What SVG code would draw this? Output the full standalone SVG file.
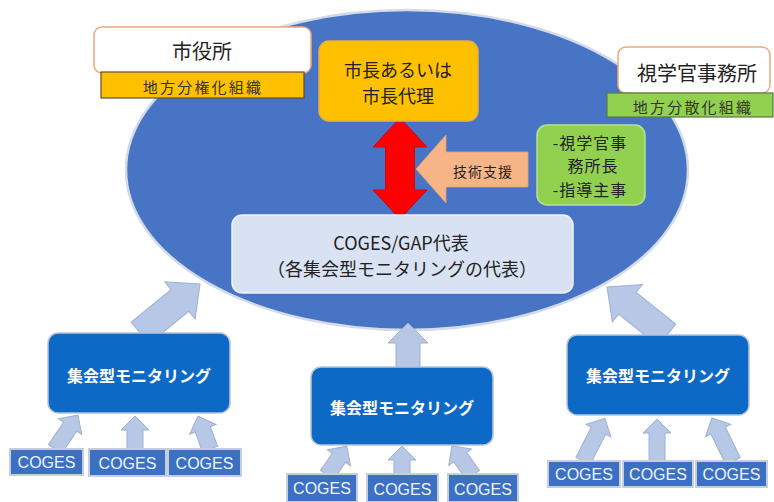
<svg xmlns="http://www.w3.org/2000/svg" width="774" height="502" viewBox="0 0 774 502">
<defs>
<style>
.jp{font-family:"Noto Sans CJK JP","Liberation Sans",sans-serif;text-anchor:middle;dominant-baseline:central}
.lt{font-family:"Liberation Sans","Noto Sans CJK JP",sans-serif;text-anchor:middle;dominant-baseline:central}
.conn{fill:#b7c7e6;stroke:#9fb0d0;stroke-width:1}
.mon{fill:#0d69c6;stroke:#b8c4d8;stroke-width:1.5}
.cg{fill:#3c70c2;stroke:#c6cedc;stroke-width:2}
.cgt{fill:#eef4ff;font-size:16px}
.mt{fill:#ffffff;font-size:16px;font-weight:bold}
</style>
</defs>
<rect width="774" height="502" fill="#ffffff"/>
<g id="circle">
<ellipse cx="407" cy="170" rx="281" ry="160" fill="#4774c4" stroke="#d4dbe8" stroke-width="2.5"/>
</g>
<g id="connectors">
<polygon points="400,118 427,147 414.5,147 414.5,190 427,190 400,219 373,190 385.5,190 385.5,147 373,147" fill="#ff0000" stroke="#d00000" stroke-width="0.8"/>
<g id="support">
<polygon points="416,169 446,135 446,152 528,152 528,187 446,187 446,203" fill="#f6b587" stroke="#e8a070" stroke-width="0.8"/>
<text class="jp" x="483" y="171" font-size="14" fill="#222" letter-spacing="1">技術支援</text>
</g>
<g transform="translate(140,333) rotate(-39.2)"><polygon class="conn" points="0,-14 51.5,-14 51.5,-24 77.5,0 51.5,24 51.5,14 0,14"/></g>
<g transform="translate(667,335) rotate(-141.3)"><polygon class="conn" points="0,-14 50.8,-14 50.8,-24 76.8,0 50.8,24 50.8,14 0,14"/></g>
<g transform="translate(408,367) rotate(-90)"><polygon class="conn" points="0,-12 24,-12 24,-20 44,0 24,20 24,12 0,12"/></g>
<g transform="translate(55,449) rotate(-55.9)"><polygon class="conn" points="0,-8 27,-8 27,-14 41,0 27,14 27,8 0,8"/></g>
<g transform="translate(135,449) rotate(-90)"><polygon class="conn" points="0,-8 19,-8 19,-14 33,0 19,14 19,8 0,8"/></g>
<g transform="translate(210,449) rotate(-110)"><polygon class="conn" points="0,-8 21,-8 21,-14 35,0 21,14 21,8 0,8"/></g>
<g transform="translate(327,475) rotate(-55.4)"><polygon class="conn" points="0,-8 21,-8 21,-14 35,0 21,14 21,8 0,8"/></g>
<g transform="translate(402,475) rotate(-90)"><polygon class="conn" points="0,-8 15,-8 15,-14 29,0 15,14 15,8 0,8"/></g>
<g transform="translate(473,475) rotate(-125.9)"><polygon class="conn" points="0,-8 22,-8 22,-14 36,0 22,14 22,8 0,8"/></g>
<g transform="translate(583,461) rotate(-62.9)"><polygon class="conn" points="0,-8 34,-8 34,-14 48,0 34,14 34,8 0,8"/></g>
<g transform="translate(657,461) rotate(-90)"><polygon class="conn" points="0,-8 28,-8 28,-14 42,0 28,14 28,8 0,8"/></g>
<g transform="translate(733,461) rotate(-116)"><polygon class="conn" points="0,-8 34,-8 34,-14 48,0 34,14 34,8 0,8"/></g>
</g>
<g id="shiyakusho">
<rect x="94" y="27" width="217" height="46" rx="8" fill="#ffffff" stroke="#eea878" stroke-width="1.5"/>
<text class="jp" x="202" y="50" font-size="20" fill="#222">市役所</text>
</g>
<g id="bunkenka">
<rect x="101" y="72" width="203" height="26" fill="#ffc000" stroke="#5a5030" stroke-width="1.2"/>
<text class="jp" x="203" y="86" font-size="15" fill="#333" letter-spacing="2.2">地方分権化組織</text>
</g>
<g id="mayor">
<rect x="319" y="41" width="159" height="80" rx="10" fill="#ffc000" stroke="#e8b040" stroke-width="1.5"/>
<text class="jp" x="398" y="69" font-size="18" fill="#222">市長あるいは</text>
<text class="jp" x="398" y="95" font-size="18" fill="#222">市長代理</text>
</g>
<g id="shigakukan">
<rect x="618" y="47" width="152" height="46" rx="8" fill="#ffffff" stroke="#eea878" stroke-width="1.5"/>
<text class="jp" x="697" y="72" font-size="20" fill="#222">視学官事務所</text>
</g>
<g id="bunsanka">
<rect x="607" y="93" width="166" height="24" fill="#92d050" stroke="#5a7a40" stroke-width="1.2"/>
<text class="jp" x="693" y="106" font-size="15" fill="#333" letter-spacing="2.2">地方分散化組織</text>
</g>
<g id="officials">
<rect x="537" y="125" width="108" height="80" rx="10" fill="#92d050" stroke="#b8e098" stroke-width="1.5"/>
<text class="jp" x="590" y="141.5" font-size="16" fill="#222" letter-spacing="1">-視学官事</text>
<text class="jp" x="593" y="165" font-size="16" fill="#222" letter-spacing="1">務所長</text>
<text class="jp" x="590" y="188.5" font-size="16" fill="#222" letter-spacing="1">-指導主事</text>
</g>
<g id="coges-gap">
<rect x="232" y="215" width="341" height="78" rx="10" fill="#d9e2f3" stroke="#eef2fa" stroke-width="1.5"/>
<text class="jp" x="401" y="242" font-size="18" fill="#222">COGES/GAP代表</text>
<text class="jp" x="402" y="268" font-size="18" fill="#222">（各集会型モニタリングの代表）</text>
</g>
<g id="mon-left">
<rect class="mon" x="48" y="333" width="182" height="80" rx="10"/>
<text class="jp mt" x="139" y="375">集会型モニタリング</text>
</g>
<g id="mon-mid">
<rect class="mon" x="311" y="367" width="182" height="78" rx="10"/>
<text class="jp mt" x="402" y="407">集会型モニタリング</text>
</g>
<g id="mon-right">
<rect class="mon" x="567" y="335" width="182" height="80" rx="10"/>
<text class="jp mt" x="658" y="375">集会型モニタリング</text>
</g>
<g id="coges-l1"><rect class="cg" x="10" y="449" width="73" height="26"/><text class="lt cgt" x="46.5" y="462.5">COGES</text></g>
<g id="coges-l2"><rect class="cg" x="89" y="449" width="77" height="27"/><text class="lt cgt" x="127.5" y="463">COGES</text></g>
<g id="coges-l3"><rect class="cg" x="168" y="449" width="73" height="27"/><text class="lt cgt" x="204.5" y="463">COGES</text></g>
<g id="coges-m1"><rect class="cg" x="287" y="474" width="70" height="28"/><text class="lt cgt" x="322" y="488">COGES</text></g>
<g id="coges-m2"><rect class="cg" x="367" y="474" width="71" height="28"/><text class="lt cgt" x="402.5" y="489">COGES</text></g>
<g id="coges-m3"><rect class="cg" x="448" y="474" width="70" height="28"/><text class="lt cgt" x="483" y="489">COGES</text></g>
<g id="coges-r1"><rect class="cg" x="548" y="461" width="72" height="26"/><text class="lt cgt" x="584" y="474">COGES</text></g>
<g id="coges-r2"><rect class="cg" x="623" y="461" width="70" height="26"/><text class="lt cgt" x="658" y="474">COGES</text></g>
<g id="coges-r3"><rect class="cg" x="696" y="461" width="71" height="26"/><text class="lt cgt" x="731.5" y="474">COGES</text></g>
</svg>
